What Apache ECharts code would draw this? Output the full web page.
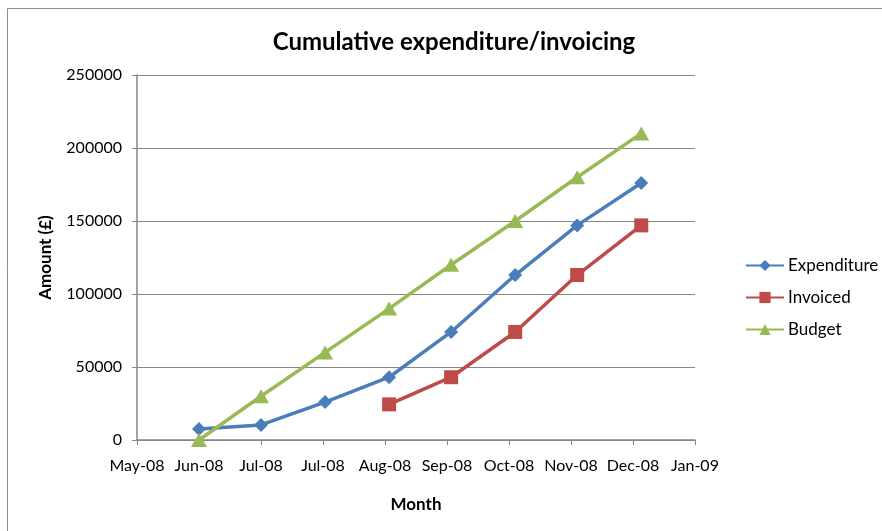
<!DOCTYPE html>
<html>
<head>
<meta charset="utf-8">
<title>Cumulative expenditure/invoicing</title>
<script src="https://cdn.jsdelivr.net/npm/echarts@6/dist/echarts.min.js"></script>
<style>
  html, body { margin: 0; padding: 0; background: #fff; }
  #main { width: 882px; height: 531px; }
</style>
</head>
<body>
<div id="main"></div>
<script>
// dates of the points (first of each month)
var monthDates = ['2008-06-01', '2008-07-01', '2008-08-01', '2008-09-01',
                  '2008-10-01', '2008-11-01', '2008-12-01', '2009-01-01'];
var invoicedDates = ['2008-09-01', '2008-10-01', '2008-11-01', '2008-12-01', '2009-01-01'];
// series values
var expenditure = [7500, 10300, 26000, 43000, 74000, 113000, 147000, 176000];
var invoiced = [24400, 43000, 74000, 113000, 147000];
var budget = [0, 30000, 60000, 90000, 120000, 150000, 180000, 210000];
// axis: Excel date serials, 30 day steps (May-08 .. Jan-09)
var xMin = 39570, xMax = 39840, xStep = 30;
var monthNames = ['Jan', 'Feb', 'Mar', 'Apr', 'May', 'Jun', 'Jul', 'Aug', 'Sep', 'Oct', 'Nov', 'Dec'];

function toSerial(s) {
    var p = s.split('-');
    return Date.UTC(+p[0], +p[1] - 1, +p[2]) / 86400000 + 25569;
}
function serialLabel(v) {
    var d = new Date((v - 25569) * 86400000);
    var yy = String(d.getUTCFullYear() % 100);
    if (yy.length < 2) yy = '0' + yy;
    return monthNames[d.getUTCMonth()] + '-' + yy;
}
function pairs(dates, vals) {
    var out = [];
    for (var i = 0; i < vals.length; i++) {
        out.push([toSerial(dates[i]), vals[i]]);
    }
    return out;
}

var myChart = echarts.init(document.getElementById('main'));
var grey = '#868686';
var font = 'Lato, "Open Sans", sans-serif';

var option = {
    backgroundColor: '#ffffff',
    animation: false,
    textStyle: { fontFamily: font },
    title: {
        text: 'Cumulative expenditure/invoicing',
        left: 449,
        textAlign: 'center',
        top: 25,
        textStyle: { fontFamily: font, fontSize: 24, fontWeight: 'bold', color: '#000' }
    },
    graphic: [{
        type: 'rect',
        shape: { x: 7.5, y: 8.5, width: 1000, height: 1000 },
        style: { fill: 'none', stroke: '#8c8c8c', lineWidth: 1 },
        silent: true,
        z: -1
    }],
    legend: {
        orient: 'vertical',
        left: 745,
        top: 257,
        padding: 0,
        itemWidth: 38,
        itemHeight: 14,
        itemGap: 15,
        textStyle: { fontFamily: font, fontSize: 17, color: '#000', padding: [0, 0, 0, -1] },
        data: ['Expenditure', 'Invoiced', 'Budget']
    },
    grid: { left: 137, right: 187, top: 75, bottom: 91, containLabel: false },
    xAxis: {
        type: 'value',
        min: xMin,
        max: xMax,
        interval: xStep,
        name: 'Month',
        nameLocation: 'middle',
        nameGap: 56,
        nameTextStyle: { fontFamily: font, fontSize: 17, fontWeight: 'bold', color: '#000' },
        axisLine: { show: true, lineStyle: { color: grey, width: 1.5 } },
        axisTick: { show: true, length: 5, lineStyle: { color: grey } },
        axisLabel: {
            margin: 18,
            fontSize: 16,
            color: '#000',
            showMinLabel: true,
            showMaxLabel: true,
            formatter: serialLabel
        },
        splitLine: { show: false }
    },
    yAxis: {
        type: 'value',
        min: 0,
        max: 250000,
        interval: 50000,
        name: 'Amount (£)',
        nameLocation: 'middle',
        nameGap: 83,
        nameTextStyle: { fontFamily: font, fontSize: 17, fontWeight: 'bold', color: '#000' },
        axisLine: { show: true, lineStyle: { color: grey, width: 1.5 } },
        axisTick: { show: true, length: 5, lineStyle: { color: grey } },
        axisLabel: {
            margin: 15,
            fontSize: 16,
            color: '#000',
            formatter: function (v) { return String(v); }
        },
        splitLine: { show: true, lineStyle: { color: grey, width: 1.2 } }
    },
    series: [{
        name: 'Expenditure',
        type: 'line',
        clip: false,
        symbol: 'diamond',
        symbolSize: [14, 14],
        color: '#4a7ebb',
        lineStyle: { width: 3.5 },
        data: pairs(monthDates, expenditure)
    }, {
        name: 'Invoiced',
        type: 'line',
        clip: false,
        symbol: 'rect',
        symbolSize: 14,
        color: '#be4b48',
        lineStyle: { width: 3.5 },
        data: pairs(invoicedDates, invoiced)
    }, {
        name: 'Budget',
        type: 'line',
        clip: false,
        symbol: 'triangle',
        symbolSize: [16, 14],
        color: '#98b954',
        lineStyle: { width: 3.5 },
        data: pairs(monthDates, budget)
    }]
};

myChart.setOption(option);
</script>
</body>
</html>
